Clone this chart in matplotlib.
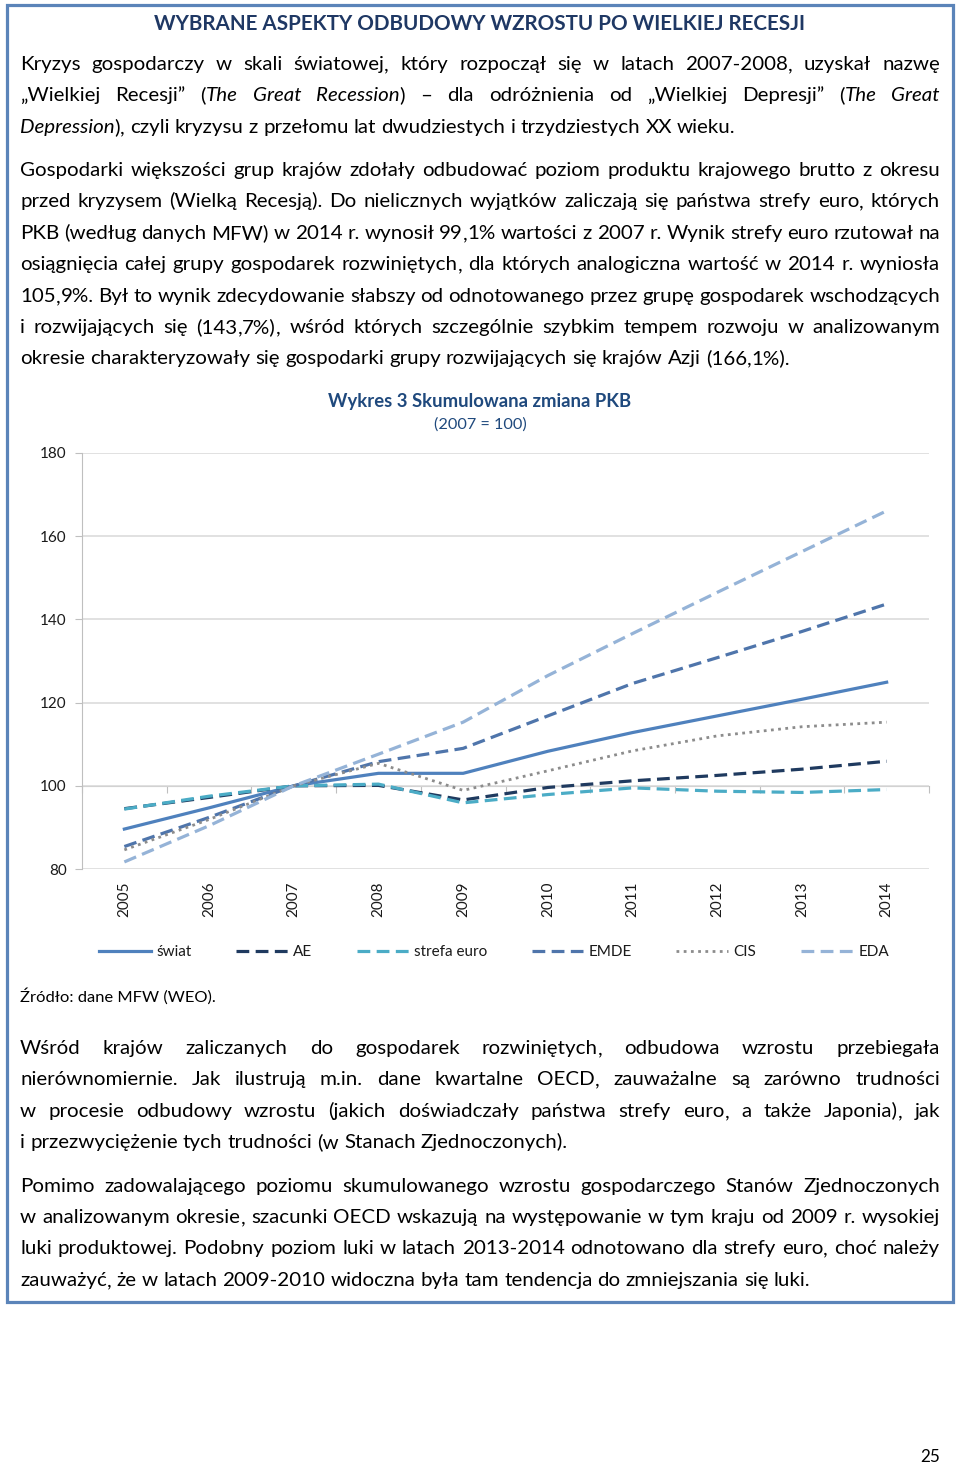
import re
import numpy as np
import matplotlib
matplotlib.use("Agg")
from matplotlib import pyplot as plt
from matplotlib.patches import Rectangle
from matplotlib.font_manager import FontProperties

### chart data (2007 = 100)
years = ['2005', '2006', '2007', '2008', '2009', '2010', '2011', '2012', '2013', '2014']
swiat = [89.6, 94.7, 100.0, 103.0, 103.0, 108.3, 112.8, 116.8, 120.8, 124.9]
ae = [94.5, 97.2, 100.0, 100.1, 96.6, 99.6, 101.2, 102.5, 104.0, 105.9]
strefa_euro = [94.4, 97.5, 100.0, 100.4, 95.9, 97.9, 99.5, 98.7, 98.4, 99.1]
emde = [85.4, 92.4, 100.0, 105.8, 109.0, 116.8, 124.6, 130.8, 137.1, 143.7]
cis = [84.6, 91.9, 100.0, 105.4, 98.9, 103.6, 108.4, 112.0, 114.2, 115.3]
eda = [81.7, 90.4, 100.0, 107.6, 115.3, 126.5, 136.6, 146.5, 156.3, 166.1]
series_names = ['świat', 'AE', 'strefa euro', 'EMDE', 'CIS', 'EDA']
y_ticks = [80, 100, 120, 140, 160, 180]

### page texts (a '*' switches italic on / off)
header = 'WYBRANE ASPEKTY ODBUDOWY WZROSTU PO WIELKIEJ RECESJI'
para1 = ['Kryzys gospodarczy w skali światowej, który rozpoczął się w latach 2007-2008, uzyskał nazwę',
         '„Wielkiej Recesji” (*The Great Recession*) – dla odróżnienia od „Wielkiej Depresji” (*The Great',
         'Depression*), czyli kryzysu z przełomu lat dwudziestych i trzydziestych XX wieku.']
para2 = ['Gospodarki większości grup krajów zdołały odbudować poziom produktu krajowego brutto z okresu',
         'przed kryzysem (Wielką Recesją). Do nielicznych wyjątków zaliczają się państwa strefy euro, których',
         'PKB (według danych MFW) w 2014 r. wynosił 99,1% wartości z 2007 r. Wynik strefy euro rzutował na',
         'osiągnięcia całej grupy gospodarek rozwiniętych, dla których analogiczna wartość w 2014 r. wyniosła',
         '105,9%. Był to wynik zdecydowanie słabszy od odnotowanego przez grupę gospodarek wschodzących',
         'i rozwijających się (143,7%), wśród których szczególnie szybkim tempem rozwoju w analizowanym',
         'okresie charakteryzowały się gospodarki grupy rozwijających się krajów Azji (166,1%).']
para3 = ['Wśród krajów zaliczanych do gospodarek rozwiniętych, odbudowa wzrostu przebiegała',
         'nierównomiernie. Jak ilustrują m.in. dane kwartalne OECD, zauważalne są zarówno trudności',
         'w procesie odbudowy wzrostu (jakich doświadczały państwa strefy euro, a także Japonia), jak',
         'i przezwyciężenie tych trudności (w Stanach Zjednoczonych).']
para4 = ['Pomimo zadowalającego poziomu skumulowanego wzrostu gospodarczego Stanów Zjednoczonych',
         'w analizowanym okresie, szacunki OECD wskazują na występowanie w tym kraju od 2009 r. wysokiej',
         'luki produktowej. Podobny poziom luki w latach 2013-2014 odnotowano dla strefy euro, choć należy',
         'zauważyć, że w latach 2009-2010 widoczna była tam tendencja do zmniejszania się luki.']
chart_title = 'Wykres 3 Skumulowana zmiana PKB'
chart_sub = '(2007 = 100)'
source = 'Źródło: dane MFW (WEO).'
page_no = '25'

FONT = 'Lato'
TXT = '#000000'
plt.rcParams['font.family'] = [FONT, 'DejaVu Sans']

fig = plt.figure(figsize=(9.6, 14.66), dpi=100)
page = fig.add_axes([0, 0, 1, 1])
page.set_xlim(0, 960)
page.set_ylim(1466, 0)
page.axis('off')
renderer = fig.canvas.get_renderer()


def text_w(s, italic=False, size=10, weight='normal'):
    prop = FontProperties(family=FONT, size=size, style='italic' if italic else 'normal', weight=weight)
    w, h, d = renderer.get_text_width_height_descent(s, prop, ismath=False)
    return w


def split_runs(line, italic):
    ### words -> runs of (text, italic); commas get their own run so the
    ### word beside them keeps its baseline
    words = []
    for w in line.split(' '):
        runs = []
        for k, part in enumerate(w.split('*')):
            if k > 0:
                italic = not italic
            for piece in re.split(r'(,)', part):
                if piece:
                    runs.append((piece, italic))
        words.append(runs)
    return words, italic


def word_w(runs, size):
    return sum(text_w(t, it, size) for t, it in runs)


def fit_size(s, width, weight='normal'):
    return 10 * width / text_w(s, size=10, weight=weight)


LEFT, RIGHT = 20, 940
paras = [para1, para2, para3, para4]

### body size: measured stretch of text, but no justified line may need tighter spaces than normal
space10 = text_w('a a', size=10) - text_w('aa', size=10)
fits = []
for para in paras:
    it = False
    for line in para[:-1]:
        words, it = split_runs(line, it)
        natural = sum(word_w(r, 10) for r in words) + 0.95 * space10 * (len(words) - 1)
        fits.append(10 * (RIGHT - LEFT) / natural)
BODY = min(fit_size('okresie charakteryzowały się gospodarki grupy', 438), min(fits))
space = space10 * BODY / 10


def draw_para(lines, centers):
    it = False
    for i, (line, yc) in enumerate(zip(lines, centers)):
        words, it = split_runs(line, it)
        widths = [word_w(r, BODY) for r in words]
        if i < len(lines) - 1 and len(words) > 1:
            gap = (RIGHT - LEFT - sum(widths)) / (len(words) - 1)
        else:
            gap = space
        x = LEFT
        for runs, w in zip(words, widths):
            xr = x
            for t, ital in runs:
                page.text(xr, yc + 5, t, fontsize=BODY, va='baseline', ha='left', color=TXT,
                          fontstyle='italic' if ital else 'normal')
                xr += text_w(t, ital, BODY)
            x += w + gap


page.add_patch(Rectangle((7, 5), 946, 1297, fill=False, edgecolor='#5B84B9', lw=2.3))
page.text(480, 24, header, fontsize=fit_size(header, 654, 'bold'), fontweight='bold',
          color='#1F3864', ha='center', va='center')
draw_para(para1, [65, 96, 128])
draw_para(para2, [171, 202, 234, 265, 297, 328, 359])
draw_para(para3, [1049, 1080, 1112, 1143])
draw_para(para4, [1187, 1218, 1249, 1281])
page.text(480, 402, chart_title, fontsize=fit_size(chart_title, 304, 'bold'), fontweight='bold',
          color='#1F497D', ha='center', va='center')
page.text(480, 425, chart_sub, fontsize=fit_size(chart_sub, 92), color='#1F497D',
          ha='center', va='center')
page.text(20, 1002, source, fontsize=fit_size(source, 195), color=TXT, ha='left', va='baseline')
page.text(940, 1457, page_no, fontsize=fit_size(page_no, 20), color=TXT, ha='right', va='center')

### chart
ax = fig.add_axes([82 / 960, 1 - 869 / 1466, 847 / 960, 416 / 1466])
x = np.arange(len(years))
styles = [
    dict(color='#4F81BD', lw=2.3),
    dict(color='#1F3A5F', lw=2.3, dashes=(4, 2)),
    dict(color='#4BACC6', lw=2.3, dashes=(4, 2)),
    dict(color='#4F75AB', lw=2.3, dashes=(4, 2)),
    dict(color='#8C8C8C', lw=2.0, dashes=(1, 1.6)),
    dict(color='#95B3D7', lw=2.3, dashes=(4, 2)),
]
handles = []
for name, vals, st in zip(series_names, [swiat, ae, strefa_euro, emde, cis, eda], styles):
    ln, = ax.plot(x, vals, label=name, **st)
    handles.append(ln)

ax.set_xlim(-0.5, len(years) - 0.5)
ax.set_ylim(80, 180)
ax.set_yticks(y_ticks)
ax.set_xticks(x)
ax.set_xticklabels(years, rotation=90, fontsize=11, color='#1A1A1A')
ax.tick_params(axis='x', length=0, pad=9)
ax.tick_params(axis='y', length=5, color='#BFBFBF', pad=6, labelsize=11, labelcolor='#1A1A1A')
ax.yaxis.grid(True, color='#D9D9D9', lw=1.1)
ax.set_axisbelow(True)
for s in ['top', 'right', 'bottom']:
    ax.spines[s].set_visible(False)
ax.spines['left'].set_color('#BFBFBF')

### category axis crossing at 100
sec = ax.secondary_xaxis((100 - 80) / (180 - 80))
sec.set_xticks(np.arange(-0.5, len(years), 1))
sec.tick_params(length=5, color='#BFBFBF', labelbottom=False)
sec.spines['bottom'].set_color('#BFBFBF')

fig.legend(handles, series_names, loc='center', bbox_to_anchor=(494 / 960, 1 - 952 / 1466),
           ncol=6, frameon=False, fontsize=11, handlelength=3.4, handletextpad=0.35,
           columnspacing=2.9, labelcolor='#1A1A1A')

fig.savefig('out.png', dpi=100)
